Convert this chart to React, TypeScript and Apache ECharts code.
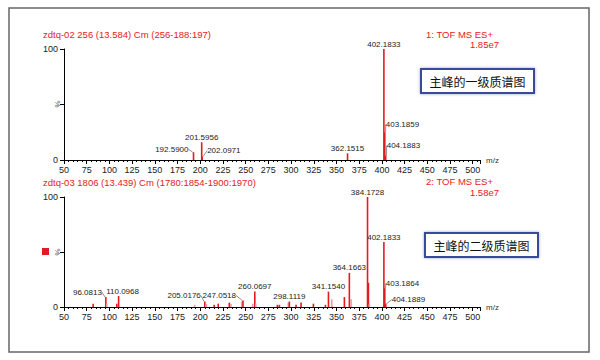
import React, { useEffect, useRef } from "react";
import * as echarts from "echarts";

// ---- data ----
const ms1Header = "zdtq-02 256 (13.584) Cm (256-188:197)";
const ms1Mode = "1: TOF MS ES+";
const ms1Max = "1.85e7";
const ms1Note = "主峰的一级质谱图";
const ms1Mz = [192.59, 201.5956, 202.0971, 362.1515, 402.1833, 403.1859, 404.1883];
const ms1Intensity = [7, 16, 3, 6, 100, 25, 4];
const ms1Labels = ["192.5900", "201.5956", "202.0971", "362.1515", "402.1833", "403.1859", "404.1883"];

const ms2Header = "zdtq-03 1806 (13.439) Cm (1780:1854-1900:1970)";
const ms2Mode = "2: TOF MS ES+";
const ms2Max = "1.58e7";
const ms2Note = "主峰的二级质谱图";
const ms2Mz = [82.1, 96.0813, 97.1, 108.1, 110.0968, 193.9, 205.0176, 206.7, 215.4, 219.8, 232.0, 233.8, 245.6, 247.0518, 257.7, 260.0697, 261.1, 284.9, 287.1, 296.9, 298.1119, 305.5, 311.0, 324.6, 337.8, 341.154, 344.8, 358.7, 364.1663, 366.1, 384.1728, 385.17, 386.2, 402.1833, 403.1864, 404.1889];
const ms2Intensity = [3, 9, 3, 3, 10, 2, 5, 3, 2, 3, 4, 3, 5, 6, 3, 14, 3, 2, 2, 4, 5, 2, 4, 3, 2, 14, 7, 9, 31, 7, 100, 22, 3, 59, 17, 3];
const ms2Labels = ["", "96.0813", "", "", "110.0968", "", "205.0176", "", "", "", "", "", "", "247.0518", "", "260.0697", "", "", "", "", "298.1119", "", "", "", "", "341.1540", "", "", "364.1663", "", "384.1728", "", "", "402.1833", "403.1864", "404.1889"];
const ms2Light = [false, false, true, false, false, true, false, true, false, false, false, true, true, false, true, false, true, false, false, true, false, false, false, false, false, false, true, false, false, true, false, false, true, false, false, false];

const yTickLabels = ["0", "%", "100"];

// ---- styles ----
const RED = "#e41a22";
const PINK = "#f39aa2";
const FONT = "Liberation Sans, Arial, sans-serif";

// label placement relative to peak top: [dx, dy, align, leader]
const labelPlace: Record<string, [number, number, string, boolean]> = {
  "192.5900": [-5, -3, "right", true],
  "202.0971": [5, -6, "left", true],
  "403.1859": [1, -8, "left", true],
  "404.1883": [1, -10, "left", true],
  "96.0813": [-4, -5, "right", true],
  "110.0968": [4, -5, "center", false],
  "205.0176": [-4, -6, "right", true],
  "247.0518": [-7, -5, "right", true],
  "403.1864": [1, -5, "left", true],
  "404.1889": [6, -4, "left", true],
};

function buildSeries(mz: number[], inten: number[], labels: string[], light: boolean[] | null, idx: number) {
  return {
    type: "bar",
    xAxisIndex: idx,
    yAxisIndex: idx,
    barWidth: 1.6,
    data: mz.map((m, i) => {
      const lbl = labels[i];
      const place = labelPlace[lbl];
      return {
        value: [m, inten[i]],
        itemStyle: { color: light && light[i] ? PINK : RED },
        label: { show: !!lbl, formatter: lbl },
        labelLine: { show: !!(place && place[3]) },
      };
    }),
    label: {
      position: "top",
      distance: 1,
      fontSize: 8,
      color: "#222",
      fontFamily: FONT,
    },
    labelLine: { lineStyle: { color: "#444", width: 0.6 }, smooth: false },
    labelLayout: (p: any) => {
      const o = labelPlace[p.text];
      if (!o) return {};
      const r = p.rect;
      return { x: r.x + r.width / 2 + o[0], y: r.y + o[1], align: o[2], verticalAlign: "middle" };
    },
  };
}

function xAxisCfg(idx: number) {
  return {
    gridIndex: idx,
    type: "value",
    min: 50,
    max: 508,
    interval: 25,
    axisLine: { lineStyle: { color: "#000", width: 1 } },
    axisTick: { show: true, length: 4, lineStyle: { color: "#000" } },
    minorTick: { show: true, splitNumber: 5, length: 2, lineStyle: { color: "#000" } },
    axisLabel: { fontSize: 9, color: "#222", margin: 5, showMaxLabel: false, fontFamily: FONT },
    splitLine: { show: false },
    name: "m/z",
    nameLocation: "end",
    nameGap: 6,
    nameTextStyle: { fontSize: 8, color: "#333", fontFamily: FONT },
  };
}

function yAxisCfg(idx: number) {
  return {
    gridIndex: idx,
    type: "value",
    min: 0,
    max: 100,
    interval: 50,
    axisLine: { show: true, lineStyle: { color: "#000", width: 1 } },
    axisTick: { show: true, length: 4, lineStyle: { color: "#000" } },
    axisLabel: {
      fontSize: 9,
      color: "#222",
      margin: 6,
      fontFamily: FONT,
      formatter: (v: number) => (v === 50 ? "" : v === 0 ? yTickLabels[0] : yTickLabels[2]),
    },
    splitLine: { show: false },
  };
}

function noteBox(x: number, y: number, text: string) {
  return {
    type: "group",
    children: [
      {
        type: "rect",
        shape: { x, y, width: 113, height: 24 },
        style: { fill: "#fff", stroke: "#3b4a9a", lineWidth: 2, shadowBlur: 3, shadowColor: "rgba(80,100,180,0.6)" },
      },
      {
        type: "text",
        x: x + 56.5,
        y: y + 12,
        style: { text, fontSize: 12, fontFamily: "Noto Sans CJK SC", fill: "#111", align: "center", verticalAlign: "middle" },
      },
    ],
  };
}

function redText(x: number, y: number, text: string, align: string) {
  return {
    type: "text",
    x,
    y,
    style: { text, fontSize: 9.5, fontFamily: FONT, fill: RED, align, verticalAlign: "middle" },
  };
}

function pctText(y: number) {
  return {
    type: "text",
    x: 57,
    y,
    rotation: -Math.PI / 2,
    style: { text: yTickLabels[1], fontSize: 8, fill: "#555", fontFamily: FONT, align: "center", verticalAlign: "middle" },
  };
}

export default function App() {
  const ref = useRef<HTMLDivElement>(null);
  useEffect(() => {
    if (!ref.current) return;
    const chart = echarts.init(ref.current, null, { renderer: "svg" });
    chart.setOption({
      animation: false,
      backgroundColor: "#fff",
      grid: [
        { left: 64, top: 49, width: 416, height: 111 },
        { left: 64, top: 197, width: 416, height: 110 },
      ],
      xAxis: [xAxisCfg(0), xAxisCfg(1)],
      yAxis: [yAxisCfg(0), yAxisCfg(1)],
      series: [
        buildSeries(ms1Mz, ms1Intensity, ms1Labels, null, 0),
        buildSeries(ms2Mz, ms2Intensity, ms2Labels, ms2Light, 1),
      ],
      graphic: [
        {
          type: "rect",
          shape: { x: 9, y: 8, width: 580, height: 344 },
          style: { fill: "none", stroke: "#666", lineWidth: 1.5 },
          silent: true,
        },
        redText(43, 34, ms1Header, "left"),
        redText(493, 34, ms1Mode, "right"),
        redText(499, 44, ms1Max, "right"),
        redText(43, 182, ms2Header, "left"),
        redText(493, 181, ms2Mode, "right"),
        redText(499, 192, ms2Max, "right"),
        noteBox(421, 69, ms1Note),
        noteBox(425, 233, ms2Note),
        pctText(104),
        pctText(252),
        {
          type: "rect",
          shape: { x: 42, y: 248, width: 7, height: 7 },
          style: { fill: RED },
        },
      ],
    });
    return () => chart.dispose();
  }, []);
  return <div ref={ref} style={{ width: 600, height: 360, position: "fixed", left: 0, top: 0 }} />;
}
